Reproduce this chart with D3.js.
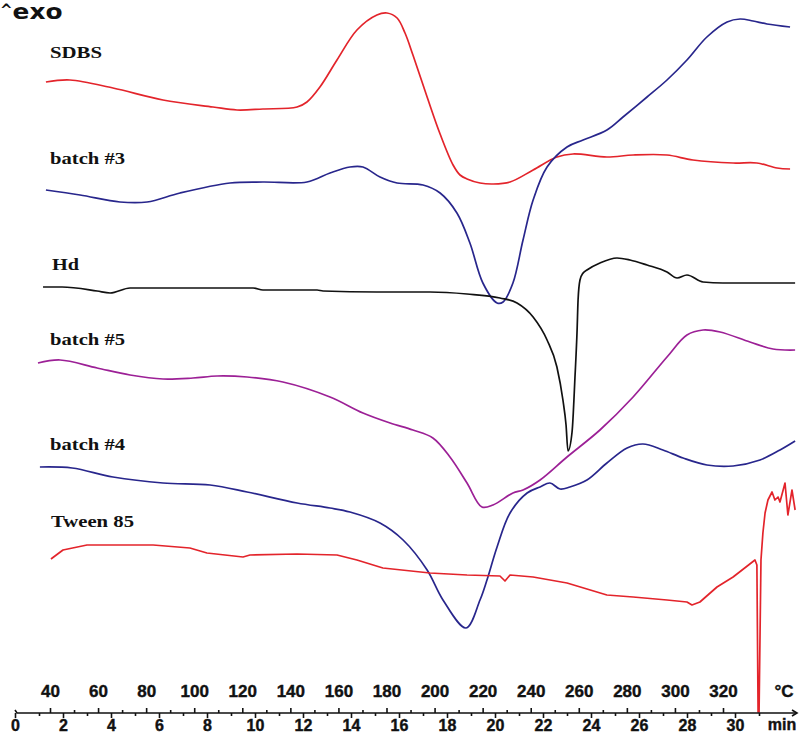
<!DOCTYPE html>
<html><head><meta charset="utf-8">
<script src="https://cdn.jsdelivr.net/npm/d3@7/dist/d3.min.js"></script>
<style>body{margin:0;background:#fff}svg{display:block}</style></head>
<body><svg id="c" width="799" height="734"></svg>
<script>
// ---- data (temperature °C, heat flow in arbitrary units, exo up) ----
const tempTicks = [40,60,80,100,120,140,160,180,200,220,240,260,280,300,320];
const timeTicks = [0,2,4,6,8,10,12,14,16,18,20,22,24,26,28,30];
const seriesNames = ["SDBS","batch #3","Hd","batch #5","batch #4","Tween 85"];

const sdbs = [[38.3,63.8],[48.3,64.0],[66.2,63.2],[87.0,62.0],[107.8,61.3],[117.8,61.0],[128.6,61.1],[142.8,61.3],[146.9,61.8],[152.3,63.3],[159.4,66.0],[167.7,69.0],[176.0,70.5],[180.2,70.7],[184.4,70.2],[187.7,68.7],[191.0,66.5],[196.9,62.3],[202.3,58.6],[207.7,55.5],[210.6,54.5],[213.5,54.1],[218.9,53.7],[224.3,53.6],[231.4,53.8],[241.0,55.0],[250.9,56.3],[257.6,56.6],[271.7,56.3],[282.6,56.5],[296.7,56.5],[307.5,56.0],[324.2,55.7],[334.1,55.7],[342.5,55.2],[347.9,55.1]];

const batch3 = [[38.3,53.0],[52.5,52.5],[69.1,51.8],[80.4,51.8],[94.1,52.7],[114.9,53.7],[128.6,53.8],[146.9,53.8],[156.5,54.7],[164.8,55.3],[170.2,55.3],[177.3,54.3],[184.4,53.7],[195.2,53.5],[202.3,52.7],[209.3,50.7],[214.7,47.7],[220.1,43.7],[226.0,41.7],[228.5,41.8],[232.6,43.7],[236.8,48.0],[241.0,52.0],[246.8,55.3],[255.1,57.3],[261.8,58.0],[271.7,59.0],[278.4,60.3],[288.4,62.3],[296.7,64.0],[305.0,66.0],[313.3,68.3],[321.7,69.8],[327.1,70.1],[332.5,69.9],[338.3,69.6],[347.9,69.3]];

const hd = [[37.1,43.3],[45.0,43.3],[59.6,42.9],[65.0,42.7],[73.3,43.2],[124.5,43.2],[128.6,43.0],[151.1,43.0],[153.6,42.9],[176.0,42.8],[198.1,42.8],[213.5,42.6],[227.2,42.2],[234.3,41.7],[241.0,40.3],[246.8,38.0],[250.9,35.3],[253.4,32.0],[254.7,29.5],[255.5,26.9],[257.2,28.8],[258.4,34.2],[259.3,39.0],[259.7,42.0],[260.5,44.0],[261.8,44.7],[263.4,45.0],[268.8,45.7],[275.9,46.2],[281.3,46.0],[288.4,45.5],[296.7,44.8],[300.9,44.2],[305.0,44.5],[311.7,43.8],[320.0,43.7],[350.0,43.7]];

const batch5 = [[35.0,35.7],[44.2,36.0],[59.6,35.2],[73.3,34.5],[87.0,34.1],[99.5,34.2],[109.5,34.4],[122.0,34.3],[136.9,33.8],[156.5,32.3],[170.2,30.7],[181.5,29.7],[191.0,29.0],[199.3,28.2],[206.4,26.3],[213.5,23.7],[219.7,21.3],[224.3,21.5],[232.6,22.7],[236.8,23.0],[243.9,24.0],[255.1,26.3],[268.8,29.0],[282.6,32.3],[296.7,36.3],[305.0,38.5],[311.7,39.0],[318.8,38.8],[331.2,37.8],[340.8,37.1],[350.0,37.0]];

const batch4 = [[35.8,25.3],[49.2,25.2],[66.2,24.3],[87.0,23.7],[106.6,23.5],[122.0,22.8],[142.8,21.7],[156.5,21.2],[164.8,20.8],[177.3,19.7],[186.9,18.0],[196.9,15.0],[203.5,12.0],[213.1,9.2],[218.9,12.0],[221.8,14.0],[226.0,17.3],[231.4,20.7],[238.5,22.7],[243.9,23.3],[248.0,23.7],[252.2,23.1],[256.3,23.3],[263.4,24.0],[271.7,25.7],[280.1,27.2],[286.7,27.6],[295.0,27.0],[303.4,26.2],[313.3,25.5],[324.2,25.4],[335.4,26.0],[343.7,27.0],[350.0,27.9]];

const tween85 = [[40.4,16.1],[45.4,17.0],[55.4,17.5],[82.9,17.5],[98.2,17.2],[105.3,16.7],[120.3,16.3],[123.2,16.5],[142.8,16.6],[159.4,16.5],[167.7,16.0],[178.5,15.2],[198.1,14.7],[213.5,14.5],[227.2,14.4],[229.3,13.9],[231.4,14.5],[241.0,14.3],[255.1,13.7],[271.7,12.5],[282.6,12.3],[296.7,12.0],[305.0,11.8],[307.1,11.5],[310.4,11.8],[317.5,13.3],[324.2,14.3],[333.3,16.0],[334.1,15.5],[334.6,0.8],[335.0,0.8],[335.8,16.0],[336.6,18.7],[337.5,20.7],[338.7,22.0],[340.4,22.8],[341.6,22.0],[342.9,22.3],[343.7,21.8],[345.8,23.7],[347.0,20.5],[348.7,23.0],[350.0,21.0]];

const seriesData = [sdbs, batch3, hd, batch5, batch4, tween85];
const seriesColors = ["#e3242b","#28268c","#111111","#9c2096","#28268c","#e3242b"];

// ---- layout ----
const axisY = 713;
const svg = d3.select("#c");
const x = d3.scaleLinear().domain([40,320]).range([50,723]);
const xt = d3.scaleLinear().domain([0,30]).range([15,735]);
const y = d3.scaleLinear().domain([0,72]).range([720,0]);

const curves = [d3.curveCatmullRom.alpha(0.5), d3.curveCatmullRom.alpha(0.5), d3.curveMonotoneX,
                d3.curveCatmullRom.alpha(0.5), d3.curveCatmullRom.alpha(0.5), d3.curveLinear];
seriesData.forEach((s,i)=>{
  const line = d3.line().x(d=>x(d[0])).y(d=>y(d[1])).curve(curves[i]);
  svg.append("path").datum(s)
    .attr("fill","none").attr("stroke",seriesColors[i]).attr("stroke-width",1.7)
    .attr("stroke-linejoin","round").attr("d", line);
});

// series labels
const labelPos = [[50,58,52],[50,164,75],[52,270,27],[50,345,75],[50,450,75],[51,527,83]];
seriesNames.forEach((n,i)=>{
  svg.append("text").attr("x",labelPos[i][0]).attr("y",labelPos[i][1])
    .attr("textLength",labelPos[i][2]).attr("lengthAdjust","spacingAndGlyphs")
    .style("font-family","'Liberation Serif', serif").style("font-weight","bold")
    .style("font-size","17px").attr("fill","#111").text(n);
});

// ^exo
const ex = svg.append("text").attr("x",0).attr("y",19)
  .style("font-family","'DejaVu Sans', sans-serif").style("font-weight","bold").attr("fill","#111");
ex.append("tspan").style("font-size","15px").attr("dy","-4").text("^");
ex.append("tspan").style("font-size","22px").attr("dy","4").attr("textLength",50).attr("lengthAdjust","spacingAndGlyphs").text("exo");

// axes
const g = svg.append("g").attr("transform",`translate(0,${axisY})`);
const axFont = "'Liberation Sans', Arial, sans-serif";
const tAxis = d3.axisTop(x).tickValues(tempTicks).tickSize(5).tickPadding(11).tickFormat(d3.format("d"));
const tMinor = d3.axisTop(x).tickValues(d3.range(50,330,20)).tickSize(3).tickFormat("");
const mAxis = d3.axisBottom(xt).tickValues(timeTicks).tickSize(5).tickPadding(2).tickFormat(d3.format("d"));
const mMinor = d3.axisBottom(xt).tickValues(d3.range(1,32,2)).tickSize(3).tickFormat("");
[[tAxis,17],[tMinor,17],[mAxis,16],[mMinor,16]].forEach(([a,fs])=>{
  const ag = g.append("g").call(a);
  ag.select(".domain").remove();
  ag.selectAll("line").attr("stroke","#111").attr("stroke-width",1.6);
  ag.selectAll("text").style("font-family",axFont).style("font-weight","bold")
    .style("font-size",fs+"px").attr("fill","#111").attr("stroke","#111").attr("stroke-width",0.4);
});
// axis baseline with arrow
g.append("path").attr("d",`M${xt(0)},-3 L${xt(0)+2},0 L797,0`).attr("fill","none").attr("stroke","#111").attr("stroke-width",1.6);
g.append("path").attr("d","M792,-3 L797,0 L792,3").attr("fill","none").attr("stroke","#111").attr("stroke-width",1.6);
svg.append("text").attr("x",784).attr("y",697).attr("text-anchor","middle")
  .style("font-family",axFont).style("font-weight","bold").style("font-size","17px").attr("fill","#111")
  .attr("stroke","#111").attr("stroke-width",0.4).text("°C");
svg.append("text").attr("x",782).attr("y",730).attr("text-anchor","middle")
  .style("font-family",axFont).style("font-weight","bold").style("font-size","16px").attr("fill","#111")
  .attr("stroke","#111").attr("stroke-width",0.4).text("min");
</script></body></html>
